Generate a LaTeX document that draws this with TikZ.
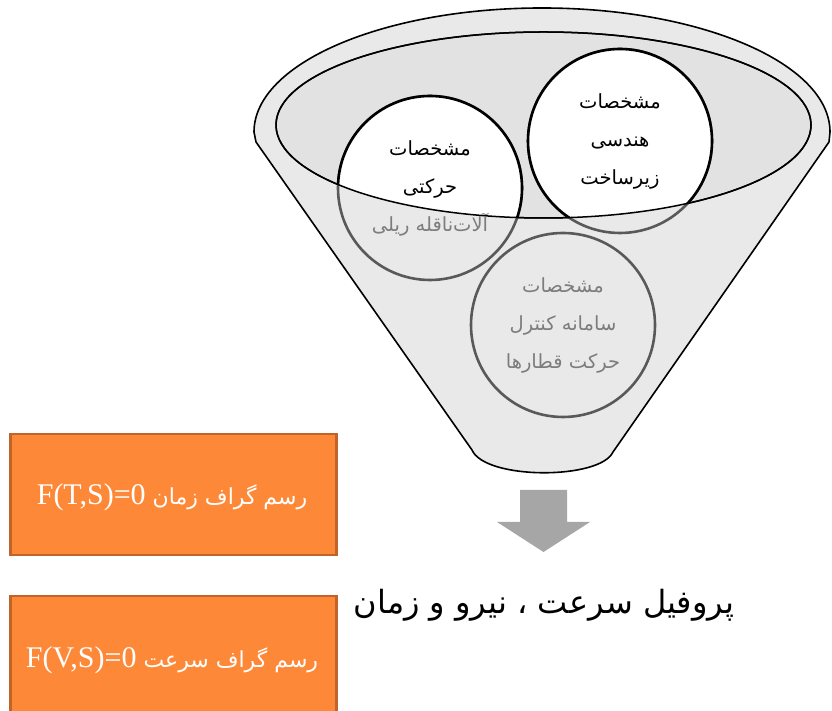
\documentclass[tikz,border=0pt]{standalone}
\usepackage{fontspec}
\setmainfont{Liberation Serif}
\newfontfamily\farsi[Script=Arabic]{DejaVu Sans}
\TeXXeTstate=1
\usetikzlibrary{positioning}
\definecolor{myorange}{RGB}{253,137,56}
\definecolor{myorangedark}{RGB}{192,100,42}
\definecolor{funnelgray}{RGB}{233,233,233}
\definecolor{rimgray}{RGB}{226,226,226}
\definecolor{backgray}{RGB}{89,89,89}
\definecolor{textgray}{RGB}{125,125,125}
\definecolor{arrowgray}{RGB}{166,166,166}
\tikzset{
  funnel/.style={draw=black, fill=funnelgray, line width=1.6pt, line join=round},
  rim/.style={draw=black, fill=rimgray, line width=1.5pt},
  rimline/.style={draw=black, line width=1.5pt},
  backcircle/.style={circle, draw=backgray, fill=funnelgray, line width=2.6pt,
    minimum size=184pt, inner sep=0pt},
  frontcircle/.style={draw=black, fill=white, line width=2.6pt},
  circletext/.style={align=center, font=\fontsize{19.5}{38}\selectfont\farsi},
  formbox/.style={rectangle, draw=myorangedark, fill=myorange, line width=2.5pt,
    minimum width=326pt, minimum height=121pt, anchor=north west},
  formtext/.style={text=white, font=\fontsize{22}{28}\selectfont\farsi},
  titletext/.style={font=\fontsize{32}{36}\selectfont\farsi}
}

\begin{document}
\begin{tikzpicture}[x=1pt, y=1pt]
  \useasboundingbox (0,0) rectangle (832,711);
  \clip (0,0) rectangle (832,711);
  % funnel
  \draw[funnel] (472,261) -- (256,569) -- (254,579)
    arc[start angle=180, end angle=0, x radius=288, y radius=124]
    -- (829,569) -- (613,259) .. controls (600,231) and (485,231) .. (472,261) -- cycle;
  \draw[rim] (543.5,586) ellipse [x radius=267.5, y radius=93];
  % circles
  \node[backcircle] (c1) at (430,523) {};
  \node[backcircle] (c2) at (620,570) {};
  \node[backcircle] (c3) at (563,386) {};
  \begin{scope}
    \clip (543.5,586) ellipse [x radius=267.5, y radius=93];
    \foreach \c in {c1,c2}
      \draw[frontcircle] (\c.center) circle [radius=92];
  \end{scope}
  \draw[rimline] (543.5,586) ellipse [x radius=267.5, y radius=93];
  \node[circletext] (t1) at (c1) {\beginR مشخصات\endR\\ \beginR حرکتی\endR\\
    \textcolor{textgray}{\beginR آلات‌ناقله ریلی\endR}};
  \node[circletext] (t2) at (c2) {\beginR مشخصات\endR\\ \beginR هندسی\endR\\ \beginR زیرساخت\endR};
  \node[circletext, text=textgray] (t3) at (c3) {\beginR مشخصات\endR\\
    \beginR سامانه کنترل\endR\\ \beginR حرکت قطارها\endR};
  % output
  \fill[arrowgray] (520,221) -- (567,221) -- (567,189) -- (590,189) -- (543.5,159)
    -- (497,189) -- (520,189) -- cycle;
  \node[titletext] (title) at (544,106) {\beginR پروفیل سرعت ، نیرو و زمان\endR};
  % graphs
  \node[formbox] (b1) at (9,278) {};
  \node[formbox] (b2) at (9,116) {};
  \node[formtext] at (172,214) {\beginR رسم گراف زمان \beginL{\rmfamily\fontsize{30}{34}\selectfont F(T,S)=0}\endL\endR};
  \node[formtext] at (172,51) {\beginR رسم گراف سرعت \beginL{\rmfamily\fontsize{30}{34}\selectfont F(V,S)=0}\endL\endR};
\end{tikzpicture}
\end{document}
